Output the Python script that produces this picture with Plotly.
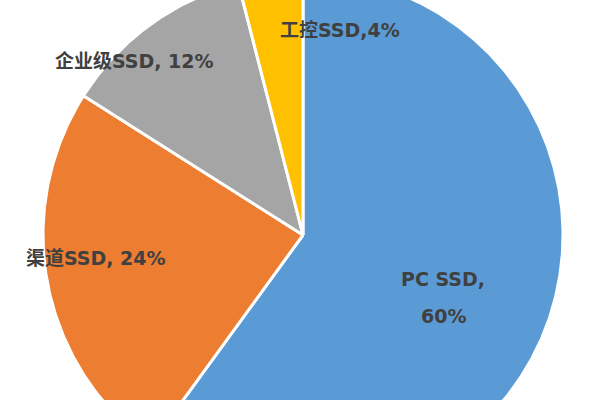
import numpy as np
import plotly.graph_objects as go

labels = ["PC SSD", "渠道SSD", "企业级SSD", "工控SSD"]
values = [60, 24, 12, 4]
colors = ["#5B9BD5", "#ED7D31", "#A5A5A5", "#FFC000"]

W, H = 600, 400
CX, CY, R = 303, 235, 260  # pie centre / radius in pixels

fig = go.Figure()
total = sum(values)
start = 0.0
for lab, v, c in zip(labels, values, colors):
    a0 = start / total * 2 * np.pi
    a1 = (start + v) / total * 2 * np.pi
    t = np.linspace(a0, a1, max(int(v * 6), 12))
    xs = np.concatenate([[0], np.sin(t), [0]])
    ys = np.concatenate([[0], np.cos(t), [0]])
    fig.add_trace(go.Scatter(x=xs, y=ys, mode="lines", fill="toself",
                             fillcolor=c, line=dict(color="white", width=3),
                             name=lab, hoverinfo="name", showlegend=False))
    start += v

font = dict(family="DejaVu Sans, Noto Sans CJK SC, sans-serif", size=19, color="#404040")

texts = [
    (f"<b>{labels[0]},</b>", 443, 279),
    (f"<b>{values[0]}%</b>", 443, 316),
    (f"<b>{labels[1]}, {values[1]}%</b>", 96, 258),
    (f"<b>{labels[2]}, {values[2]}%</b>", 134, 61),
    (f"<b>{labels[3]},{values[3]}%</b>", 340, 30),
]
for txt, px, py in texts:
    fig.add_annotation(text=txt, x=px / W, y=1 - py / H, xref="paper", yref="paper",
                       showarrow=False, font=font, xanchor="center", yanchor="middle")

fig.update_layout(
    width=W, height=H,
    margin=dict(l=0, r=0, t=0, b=0),
    paper_bgcolor="white", plot_bgcolor="white",
    xaxis=dict(range=[-CX / R, (W - CX) / R], visible=False, fixedrange=True),
    yaxis=dict(range=[-(H - CY) / R, CY / R], visible=False, fixedrange=True),
)
fig.write_html("out.html", config={"displayModeBar": False},
               post_script="document.body.style.margin='0';document.body.style.overflow='hidden';")
